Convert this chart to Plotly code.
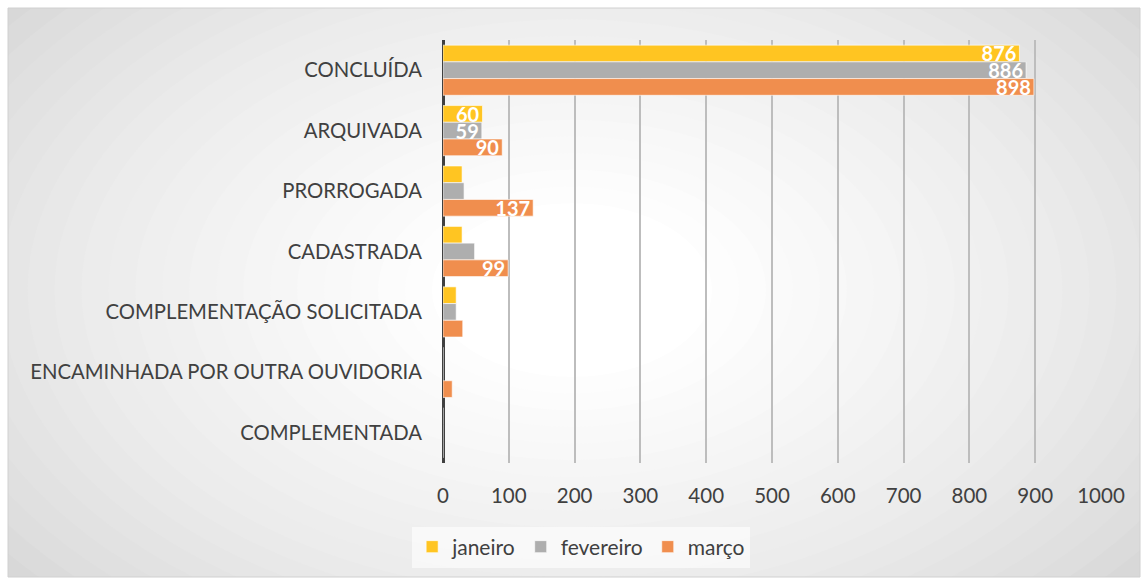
import plotly.graph_objects as go

categories = ["CONCLUÍDA", "ARQUIVADA", "PRORROGADA", "CADASTRADA",
              "COMPLEMENTAÇÃO SOLICITADA", "ENCAMINHADA POR OUTRA OUVIDORIA", "COMPLEMENTADA"]
series_names = ["janeiro", "fevereiro", "março"]
janeiro = [876, 60, 29, 29, 20, 0, 0]
fevereiro = [886, 59, 32, 48, 20, 0, 0]
marco = [898, 90, 137, 99, 30, 14, 0]
x_ticks = [0, 100, 200, 300, 400, 500, 600, 700, 800, 900, 1000]

colors = ["#FFC522", "#AEAEAE", "#F08E4E"]
values = [janeiro, fevereiro, marco]

W, H = 1144, 579
L, R, T, B = 443, 43, 40, 116
pw, ph = W - L - R, H - T - B

def px(x):
    return (x - L) / pw

def py(y):
    return (H - B - y) / ph

fig = go.Figure()
for name, vals, col in zip(series_names, values, colors):
    fig.add_trace(go.Bar(
        y=categories, x=vals, name=name, orientation="h",
        marker=dict(color=col, line=dict(color="rgba(255,255,255,0.6)", width=1)),
        text=[str(v) if v >= 50 else "" for v in vals],
        textposition="inside", insidetextanchor="end", constraintext="none", textangle=0,
        textfont=dict(color="white", size=20, family="Lato", weight="bold"),
        cliponaxis=False,
    ))

shapes = []
shapes.append(dict(type="rect", xref="paper", yref="paper", x0=px(8), x1=px(1140),
                   y0=py(577), y1=py(8), fillcolor="#d2d2d2", line=dict(width=0), layer="below"))
cx, cy = 572, 290
N = 24
for i in range(N):
    t = i / (N - 1)
    rx = 760 - t * 620
    ry = rx * 0.62
    c = int(0xd4 + (0xff - 0xd4) * (t ** 0.7))
    shapes.append(dict(type="circle", xref="paper", yref="paper",
                       x0=px(cx - rx), x1=px(cx + rx), y0=py(cy + ry), y1=py(cy - ry),
                       fillcolor=f"rgb({c},{c},{c})", line=dict(width=0), layer="below"))
for (a, b, c2, d) in [(-10, 8, -10, 600), (1140, 1160, -10, 600), (-10, 1160, -10, 8), (-10, 1160, 577, 600)]:
    shapes.append(dict(type="rect", xref="paper", yref="paper", x0=px(a), x1=px(b),
                       y0=py(d), y1=py(c2), fillcolor="white", line=dict(width=0), layer="below"))
shapes.append(dict(type="rect", xref="paper", yref="paper", x0=px(8), x1=px(1140),
                   y0=py(577), y1=py(8), fillcolor="rgba(0,0,0,0)",
                   line=dict(color="#d0d0d0", width=1), layer="below"))

fig.update_layout(
    width=W, height=H,
    margin=dict(l=L, r=R, t=T, b=B),
    paper_bgcolor="white", plot_bgcolor="rgba(0,0,0,0)",
    barmode="group", bargap=0.17, bargroupgap=0,
    font=dict(family="Lato", color="#404040", size=20),
    shapes=shapes,
    showlegend=True,
    legend=dict(orientation="h", xref="container", yref="container", x=0.508, y=1 - 547 / H,
                xanchor="center", yanchor="middle", bgcolor="rgba(255,255,255,0.6)",
                font=dict(size=21, color="#404040"), itemwidth=30, traceorder="normal"),
    xaxis=dict(range=[0, 1000], tickvals=x_ticks, showgrid=True, gridcolor="#bdbdbd", gridwidth=1.5,
               zeroline=True, zerolinecolor="#404040", zerolinewidth=3, showline=False,
               ticklabelstandoff=18, tickfont=dict(size=20.5, color="#404040")),
    yaxis=dict(autorange="reversed", showgrid=False, zeroline=False, showline=False, ticks="",
               ticklabelstandoff=20, tickfont=dict(size=20.3, color="#404040")),
)

fig.write_html("out.html", config={"displayModeBar": False},
               post_script="document.body.style.margin='0';document.body.style.overflow='hidden';")
